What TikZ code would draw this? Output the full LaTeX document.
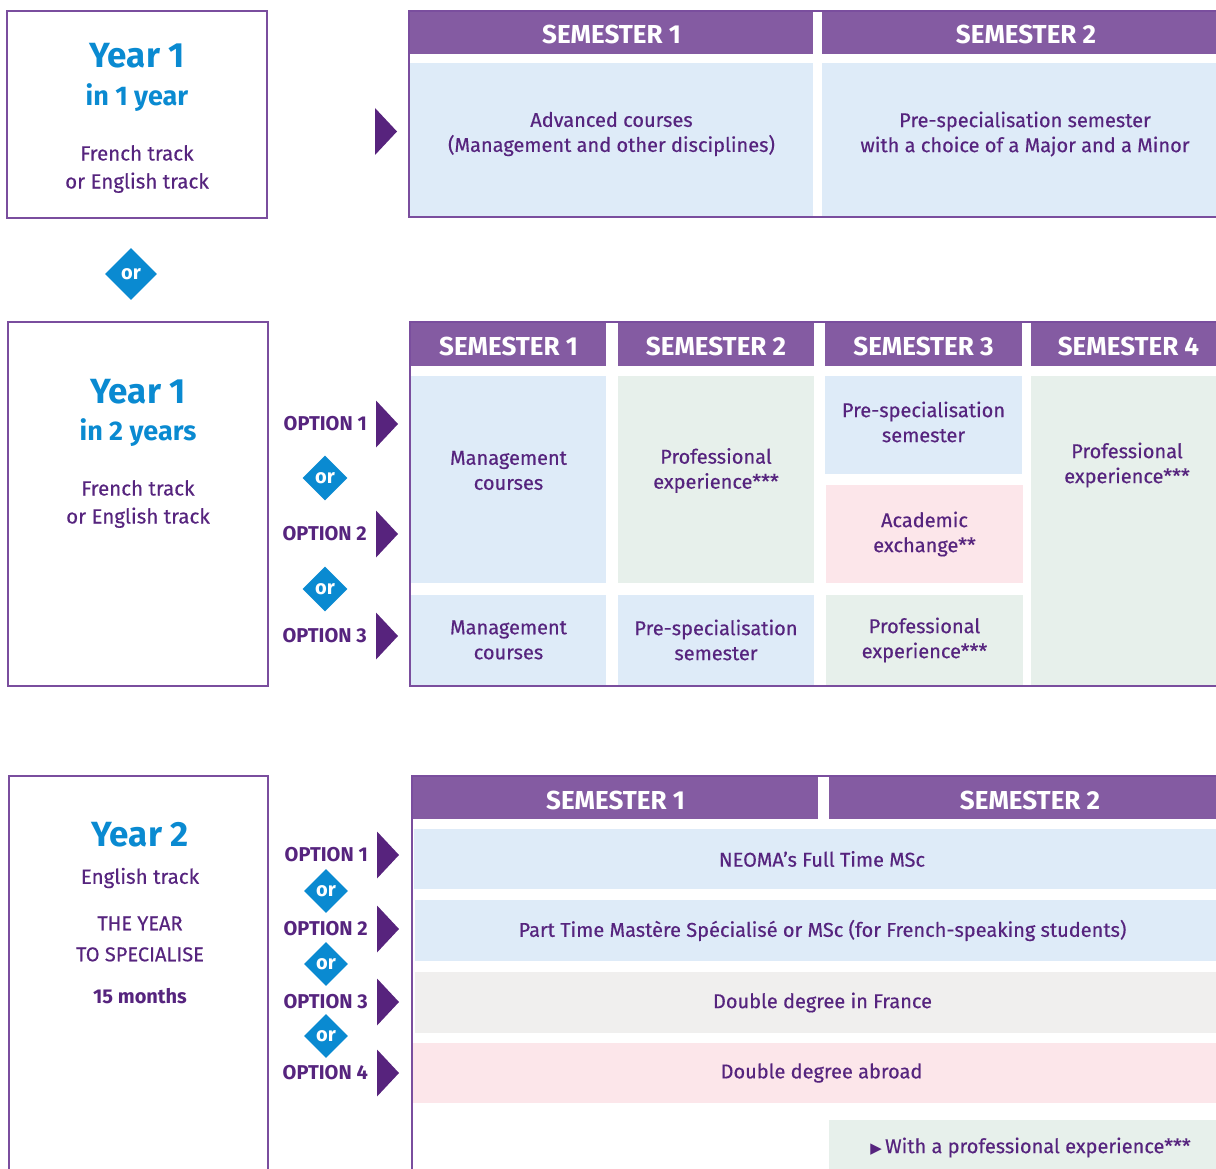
\documentclass[tikz,border=0pt]{standalone}
\usepackage{fontspec}
\setmainfont{Fira Sans}[UprightFeatures={FakeBold=0.4}]
\newfontfamily\sym{DejaVu Sans}
\usetikzlibrary{shapes.geometric}
\definecolor{hdr}{HTML}{845BA2}
\definecolor{txt}{HTML}{56247E}
\definecolor{arr}{HTML}{57237D}
\definecolor{ybl}{HTML}{0A8AD1}
\definecolor{cblue}{HTML}{DEEBF8}
\definecolor{cgreen}{HTML}{E7F0EB}
\definecolor{cpink}{HTML}{FCE6EA}
\definecolor{cgray}{HTML}{F0EFEE}
\definecolor{frm}{HTML}{7A4E9E}
\tikzset{
  fr/.style={draw=frm,line width=1.3pt},
  hd/.style={text=white,yshift=-2pt,font=\fontsize{26}{26}\selectfont\bfseries},
  ct/.style={text=txt,align=center,font=\fontsize{20}{25}\selectfont},
  yr/.style={text=ybl,font=\fontsize{35}{35}\selectfont\bfseries},
  yrs/.style={text=ybl,font=\fontsize{27}{27}\selectfont\bfseries},
  trk/.style={text=txt,align=center,font=\fontsize{20.5}{28}\selectfont},
  opt/.style={text=txt,anchor=east,inner sep=0pt,font=\fontsize{20}{20}\selectfont\bfseries},
  orbox/.style={diamond,fill=ybl,text=white,inner sep=0pt,minimum size=#1,font=\fontsize{20}{20}\selectfont\bfseries}
}
\begin{document}
\begin{tikzpicture}[x=1pt,y=-1pt]
\useasboundingbox (0,0) rectangle (1216,1169);
%year 1 in 1 year
\draw[fr] (7,11) rectangle (267,218);
\node[yr] (y1) at (137,56) {Year 1};
\node[yrs] (y1a) at (137,98) {in 1 year};
\node[trk] (y1b) at (137,169) {French track\\or English track};
\fill[arr] (375,108) -- ++(22,23.5) -- ++(-22,23.5) -- cycle;
\fill[hdr] (410,11) rectangle node[hd](h11){SEMESTER 1} (813,54);
\fill[hdr] (822,11) rectangle node[hd](h12){SEMESTER 2} (1230,54);
\fill[cblue] (410,63) rectangle node[ct](a1){Advanced courses\\(Management and other disciplines)} (813,205);
\fill[cblue] (822,63) rectangle node[ct](a2){Pre-specialisation semester\\with a choice of a Major and a Minor} (1228,205);
\fill[cblue] (410,205) rectangle (1230,216);
\fill[white] (813,63) rectangle (822,216);
\draw[fr] (1230,11) -- (409,11) -- (409,217) -- (1230,217);
\node[orbox=52] (or0) at (131,274) {or};
%year 1 in 2 years
\draw[fr] (8,322) rectangle (268,686);
\node[yr] (y2) at (138,392) {Year 1};
\node[yrs] (y2a) at (138,433) {in 2 years};
\node[trk] (y2b) at (138,504) {French track\\or English track};
\foreach \n/\y in {1/424,2/534,3/636}{
  \node[opt] (o\n) at (367,\y) {OPTION \n};
  \fill[arr] (376,\y-23.5) -- ++(22,23.5) -- ++(-22,23.5) -- cycle;
}
\node[orbox=45] (or1) at (325,478) {or};
\node[orbox=45] (or2) at (325,589) {or};
\foreach \a/\b/\n in {411/606/1,618/814/2,825/1022/3,1031/1226/4}
  \fill[hdr] (\a,322) rectangle node[hd](h2\n){SEMESTER \n} (\b,366);
\fill[cblue] (411,376) rectangle node[ct,yshift=9pt](b11){Management\\courses} (606,583);
\fill[cgreen] (618,376) rectangle node[ct,yshift=9pt](b12){Professional\\experience***} (814,583);
\fill[cblue] (825,376) rectangle node[ct,yshift=3pt](b13){Pre-specialisation\\semester} (1022,474);
\fill[cpink] (826,485) rectangle node[ct](b23){Academic\\exchange**} (1023,583);
\fill[cgreen] (1031,376) rectangle (1230,685);
\node[ct] (b14) at (1127,465) {Professional\\experience***};
\fill[cblue] (411,595) rectangle node[ct](b31){Management\\courses} (606,685);
\fill[cblue] (618,595) rectangle node[ct](b32){Pre-specialisation\\semester} (814,685);
\fill[cgreen] (826,595) rectangle node[ct](b33){Professional\\experience***} (1023,685);
\draw[fr] (1230,322) -- (410,322) -- (410,686) -- (1230,686);
%year 2
\draw[fr] (9,1175) -- (9,776) -- (268,776) -- (268,1175);
\node[yr] (y3) at (140,835) {Year 2};
\node[trk] (y3a) at (140,878) {English track};
\node[trk,font=\fontsize{20}{31}\selectfont] (y3b) at (140,939) {THE YEAR\\TO SPECIALISE};
\node[trk,font=\fontsize{20}{20}\selectfont\bfseries] (y3c) at (140,996) {15 months};
\foreach \n/\y in {1/855,2/929,3/1002,4/1073}{
  \node[opt] (p\n) at (368,\y) {OPTION \n};
  \fill[arr] (377,\y-23.5) -- ++(22,23.5) -- ++(-22,23.5) -- cycle;
}
\foreach \n/\y in {1/891,2/964,3/1036}
  \node[orbox=44] (q\n) at (326,\y) {or};
\fill[hdr] (413,777) rectangle node[hd](h31){SEMESTER 1} (818,819);
\fill[hdr] (829,777) rectangle node[hd](h32){SEMESTER 2} (1231,819);
\fill[cblue] (414,829) rectangle node[ct](r1){NEOMA’s Full Time MSc} (1230,889);
\fill[cblue] (415,900) rectangle node[ct](r2){Part Time Mastère Spécialisé or MSc (for French-speaking students)} (1230,961);
\fill[cgray] (415,972) rectangle node[ct](r3){Double degree in France} (1230,1033);
\fill[cpink] (413,1043) rectangle node[ct](r4){Double degree abroad} (1230,1103);
\fill[cgreen] (829,1120) rectangle node[ct](r5){{\sym\fontsize{15}{15}\selectfont ▶}\,With a professional experience***} (1232,1175);
\draw[fr] (1230,776) -- (412,776) -- (412,1175);
\end{tikzpicture}
\end{document}
